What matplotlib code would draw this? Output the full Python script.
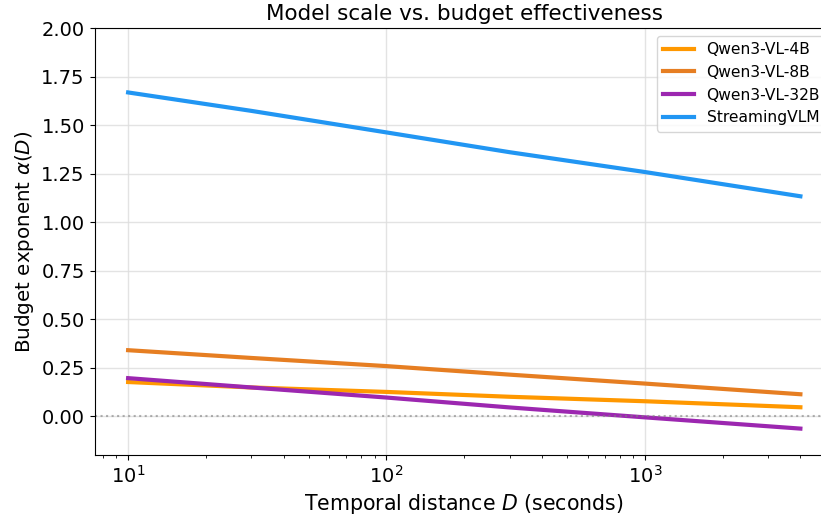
import numpy as np
import matplotlib
matplotlib.use('Agg')
import matplotlib.pyplot as plt

# Data
D = [10, 30, 100, 300, 1000, 4000]
alpha_4b = [0.176, 0.148, 0.125, 0.100, 0.077, 0.046]
alpha_8b = [0.340, 0.300, 0.258, 0.214, 0.168, 0.113]
alpha_32b = [0.196, 0.148, 0.096, 0.045, -0.006, -0.064]
alpha_stream = [1.668, 1.573, 1.462, 1.360, 1.258, 1.133]

labels = ['Qwen3-VL-4B', 'Qwen3-VL-8B', 'Qwen3-VL-32B', 'StreamingVLM']
colors = ['#FF9800', '#E67E22', '#9C27B0', '#2196F3']

fig = plt.figure(figsize=(8.21, 5.16), dpi=100)
# axes run past the right edge, like the cropped reference
ax = fig.add_axes([94.5 / 821, 61 / 516, (834 - 94.5) / 821, (455 - 28) / 516])

for y, lab, c in zip([alpha_4b, alpha_8b, alpha_32b, alpha_stream], labels, colors):
    ax.plot(D, y, '-', color=c, linewidth=3, label=lab)

ax.axhline(0, color='gray', linestyle=':', linewidth=1.5, alpha=0.6)
ax.set_xscale('log')
ax.set_ylim(-0.2, 2.0)
ax.grid(True, which='major', color='#dddddd', alpha=0.8, linewidth=1)

ax.set_title('Model scale vs. budget effectiveness', fontsize=15.5)
ax.set_xlabel('Temporal distance $D$ (seconds)', fontsize=14.8)
ax.set_ylabel(r'Budget exponent $\alpha(D)$', fontsize=14.3)
ax.tick_params(axis='both', labelsize=14)

ax.legend(loc='upper right', fontsize=11.2)

fig.savefig('out.png', dpi=100)
